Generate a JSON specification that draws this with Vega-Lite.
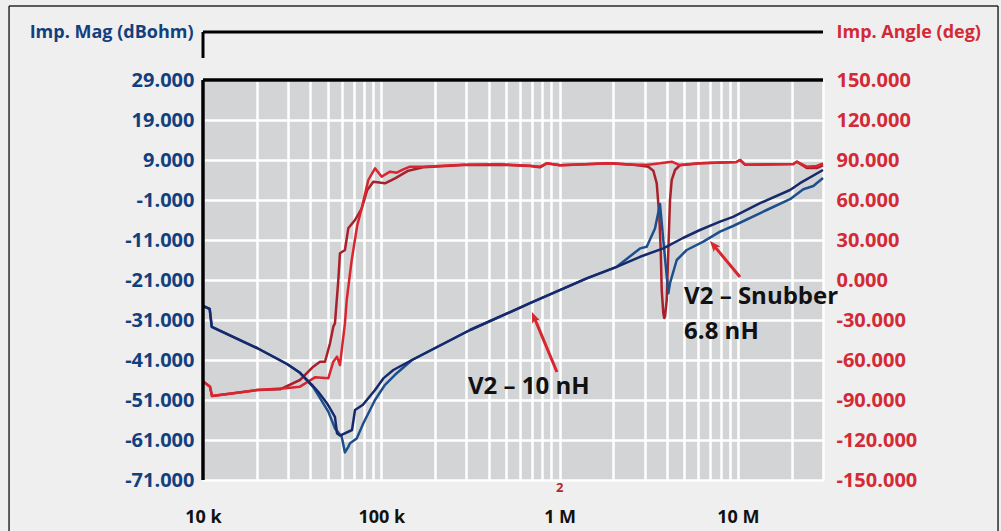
{
  "$schema": "https://vega.github.io/schema/vega-lite/v6.json",
  "width": 620,
  "height": 400,
  "autosize": {"type": "none"},
  "padding": {"left": 203, "top": 80, "right": 178, "bottom": 51},
  "background": "#efefef",
  "config": {"view": {"fill": "#d3d4d6", "stroke": null}, "font": "Open Sans"},
  "datasets": {
    "ang": [
      {"s":"D","f":10000,"v":-76},{"s":"D","f":10946,"v":-80},{"s":"D","f":11232,"v":-87},{"s":"D","f":14790,"v":-85},{"s":"D","f":20090,"v":-82.5},{"s":"D","f":27030,"v":-82},{"s":"D","f":34990,"v":-75},{"s":"D","f":41550,"v":-65},{"s":"D","f":45320,"v":-61.3},{"s":"D","f":48340,"v":-61.3},{"s":"D","f":51560,"v":-47.5},{"s":"D","f":53800,"v":-35},{"s":"D","f":54950,"v":-32.5},{"s":"D","f":57400,"v":0},{"s":"D","f":58630,"v":20},{"s":"D","f":62520,"v":22.5},{"s":"D","f":65290,"v":38.75},{"s":"D","f":71200,"v":45},{"s":"D","f":77630,"v":53.75},{"s":"D","f":83440,"v":67.5},{"s":"D","f":90200,"v":73.75},{"s":"D","f":104900,"v":72.5},{"s":"D","f":119400,"v":76.25},{"s":"D","f":141700,"v":82},{"s":"D","f":172000,"v":84.5},{"s":"D","f":288400,"v":86.25},{"s":"D","f":463000,"v":86.5},{"s":"D","f":682000,"v":85.5},{"s":"D","f":776000,"v":84.5},{"s":"D","f":846700,"v":87.5},{"s":"D","f":1005000,"v":86},{"s":"D","f":1917000,"v":87.5},{"s":"D","f":2590000,"v":86.5},{"s":"D","f":2947000,"v":85.5},{"s":"D","f":3144000,"v":85},{"s":"D","f":3354000,"v":82},{"s":"D","f":3505000,"v":72.5},{"s":"D","f":3624000,"v":47.5},{"s":"D","f":3690000,"v":22.5},{"s":"D","f":3738000,"v":-7.5},{"s":"D","f":3815000,"v":-25},{"s":"D","f":3860000,"v":-28.5},{"s":"D","f":3900000,"v":-27.5},{"s":"D","f":3987000,"v":-15},{"s":"D","f":4071000,"v":22.5},{"s":"D","f":4160000,"v":60},{"s":"D","f":4254000,"v":75},{"s":"D","f":4441000,"v":82.5},{"s":"D","f":4736000,"v":86.25},{"s":"D","f":6124000,"v":87.5},{"s":"D","f":9800000,"v":88.5},{"s":"D","f":10280000,"v":90},{"s":"D","f":10960000,"v":86.5},{"s":"D","f":20450000,"v":87},{"s":"D","f":21360000,"v":88.75},{"s":"D","f":24310000,"v":84},{"s":"D","f":27660000,"v":84},{"s":"D","f":30000000,"v":86},
      {"s":"R","f":10000,"v":-76},{"s":"R","f":10946,"v":-80},{"s":"R","f":11232,"v":-87},{"s":"R","f":14790,"v":-85},{"s":"R","f":20090,"v":-82.5},{"s":"R","f":28840,"v":-81.2},{"s":"R","f":34990,"v":-80},{"s":"R","f":42460,"v":-73},{"s":"R","f":50440,"v":-73.75},{"s":"R","f":53800,"v":-61.25},{"s":"R","f":56420,"v":-57.5},{"s":"R","f":58630,"v":-63.75},{"s":"R","f":62520,"v":-32.5},{"s":"R","f":63970,"v":-15},{"s":"R","f":68230,"v":15},{"s":"R","f":73350,"v":41.25},{"s":"R","f":77630,"v":53.75},{"s":"R","f":84530,"v":75},{"s":"R","f":92200,"v":83.75},{"s":"R","f":100500,"v":77.5},{"s":"R","f":111900,"v":81.25},{"s":"R","f":122000,"v":80.5},{"s":"R","f":132900,"v":83},{"s":"R","f":144900,"v":85},{"s":"R","f":172000,"v":85},{"s":"R","f":288400,"v":86.5},{"s":"R","f":463000,"v":86.75},{"s":"R","f":682000,"v":85.75},{"s":"R","f":776000,"v":85},{"s":"R","f":846700,"v":87.5},{"s":"R","f":1005000,"v":86},{"s":"R","f":1917000,"v":87.5},{"s":"R","f":2590000,"v":86.5},{"s":"R","f":3144000,"v":86.5},{"s":"R","f":3656000,"v":87.5},{"s":"R","f":4254000,"v":88.75},{"s":"R","f":4736000,"v":86},{"s":"R","f":6124000,"v":87.5},{"s":"R","f":9800000,"v":88.5},{"s":"R","f":10280000,"v":90},{"s":"R","f":10960000,"v":86.5},{"s":"R","f":20450000,"v":87},{"s":"R","f":21360000,"v":88.75},{"s":"R","f":24310000,"v":85},{"s":"R","f":27660000,"v":85.5},{"s":"R","f":30000000,"v":87.5}
    ],
    "mag": [
      {"s":"A","f":10000,"v":-27.5},{"s":"A","f":10900,"v":-28.2},{"s":"A","f":11200,"v":-32.7},{"s":"A","f":20090,"v":-38},{"s":"A","f":29590,"v":-42},{"s":"A","f":34990,"v":-44.2},{"s":"A","f":41400,"v":-47.7},{"s":"A","f":44160,"v":-49.7},{"s":"A","f":50440,"v":-53.9},{"s":"A","f":54950,"v":-58.1},{"s":"A","f":59970,"v":-60.2},{"s":"A","f":62520,"v":-64.1},{"s":"A","f":65290,"v":-62.7},{"s":"A","f":66740,"v":-61.8},{"s":"A","f":72780,"v":-60.6},{"s":"A","f":79300,"v":-56.8},{"s":"A","f":92200,"v":-51},{"s":"A","f":104900,"v":-47.2},{"s":"A","f":119400,"v":-44.7},{"s":"A","f":148600,"v":-41},{"s":"A","f":314500,"v":-33.5},{"s":"A","f":682000,"v":-26.8},{"s":"A","f":1419000,"v":-20.6},{"s":"A","f":2090000,"v":-17.7},{"s":"A","f":2826000,"v":-13.1},{"s":"A","f":3080000,"v":-12.7},{"s":"A","f":3427000,"v":-8.1},{"s":"A","f":3656000,"v":-2},{"s":"A","f":3815000,"v":-11},{"s":"A","f":4071000,"v":-24.3},{"s":"A","f":4160000,"v":-21.8},{"s":"A","f":4538000,"v":-16},{"s":"A","f":5162000,"v":-13.5},{"s":"A","f":6397000,"v":-11.4},{"s":"A","f":7937000,"v":-8.9},{"s":"A","f":9390000,"v":-7.5},{"s":"A","f":14500000,"v":-3.5},{"s":"A","f":19600000,"v":-0.8},{"s":"A","f":23260000,"v":1.7},{"s":"A","f":26480000,"v":2.5},{"s":"A","f":30000000,"v":4.5},
      {"s":"B","f":10000,"v":-27.5},{"s":"B","f":10900,"v":-28.2},{"s":"B","f":11200,"v":-32.7},{"s":"B","f":20090,"v":-38},{"s":"B","f":29590,"v":-42},{"s":"B","f":34990,"v":-44.2},{"s":"B","f":41400,"v":-47.5},{"s":"B","f":44160,"v":-48.9},{"s":"B","f":49550,"v":-51.8},{"s":"B","f":54950,"v":-55.2},{"s":"B","f":56420,"v":-59.3},{"s":"B","f":58630,"v":-59.9},{"s":"B","f":68500,"v":-58.5},{"s":"B","f":71200,"v":-53.5},{"s":"B","f":78900,"v":-52.2},{"s":"B","f":92200,"v":-48.5},{"s":"B","f":102600,"v":-45.6},{"s":"B","f":116800,"v":-43.5},{"s":"B","f":148600,"v":-41},{"s":"B","f":314500,"v":-33.5},{"s":"B","f":682000,"v":-26.8},{"s":"B","f":1419000,"v":-20.6},{"s":"B","f":2090000,"v":-17.7},{"s":"B","f":2826000,"v":-15.2},{"s":"B","f":3815000,"v":-13.1},{"s":"B","f":4920000,"v":-10.5},{"s":"B","f":6124000,"v":-8.5},{"s":"B","f":7937000,"v":-6.4},{"s":"B","f":9390000,"v":-5.2},{"s":"B","f":13310000,"v":-1.8},{"s":"B","f":19600000,"v":1.5},{"s":"B","f":22300000,"v":3.2},{"s":"B","f":30000000,"v":6.5}
    ],
    "notes": [
      {"label":"V2 – 10 nH","f":306000,"v":-47.75},
      {"label":"V2 – Snubber","f":4990000,"v":-25.25},
      {"label":"6.8 nH","f":4990000,"v":-34}
    ],
    "arrows": [
      {"f":966000,"v":-44,"f2":721000,"v2":-30.4},
      {"f":10270000,"v":-20.25,"f2":7330000,"v2":-12.4}
    ]
  },
  "resolve": {"scale": {"y": "independent"}},
  "layer": [
    {
      "data": {"name": "ang"},
      "mark": {"type": "line", "strokeWidth": 2.5, "strokeJoin": "round"},
      "encoding": {
        "x": {
          "field": "f", "type": "quantitative",
          "scale": {"type": "log", "domain": [10000, 30000000], "nice": false},
          "axis": {
            "values": [10000,20000,30000,40000,50000,60000,70000,80000,90000,100000,200000,300000,400000,500000,600000,700000,800000,900000,1000000,2000000,3000000,4000000,5000000,6000000,7000000,8000000,9000000,10000000,20000000,30000000],
            "tickCount": 60,
            "labelExpr": "datum.value == 10000 ? '10 k' : datum.value == 100000 ? '100 k' : datum.value == 1000000 ? '1 M' : datum.value == 10000000 ? '10 M' : ''",
            "labelOverlap": false,
            "labelFlush": false,
            "grid": true, "gridColor": "#ffffff", "gridWidth": 2.5, "gridOpacity": 1,
            "domain": false, "ticks": false, "tickSize": 0,
            "labelPadding": 28, "labelFontSize": 18, "labelFontWeight": "bold", "labelColor": "#111111",
            "labelFont": "Open Sans", "title": null
          }
        },
        "y": {
          "field": "v", "type": "quantitative",
          "scale": {"domain": [-150, 150], "nice": false, "zero": false},
          "axis": {
            "orient": "right",
            "values": [-150,-120,-90,-60,-30,0,30,60,90,120,150],
            "tickCount": 30,
            "labelExpr": "(datum.value < 0 ? '-' : '') + format(abs(datum.value), '.3f')",
            "labelOverlap": false,
            "grid": false, "domain": false, "ticks": false, "tickSize": 0,
            "labelPadding": 13, "labelFontSize": 20, "labelFontWeight": "bold", "labelColor": "#d32a36",
            "labelFont": "Open Sans",
            "title": "Imp. Angle (deg)", "titleAngle": 0, "titleAlign": "left", "titleBaseline": "middle",
            "titleX": 13, "titleY": -48, "titleFontSize": 18, "titleFontWeight": "bold", "titleColor": "#d32a36",
            "titleFont": "Open Sans"
          }
        },
        "color": {
          "field": "s", "type": "nominal",
          "scale": {"domain": ["A","B","D","R"], "range": ["#1c4f8c","#16296b","#a8212a","#da2531"]},
          "legend": null
        }
      }
    },
    {
      "layer": [
        {
          "data": {"name": "mag"},
          "mark": {"type": "line", "strokeWidth": 2.5, "strokeJoin": "round"},
          "encoding": {
            "x": {"field": "f", "type": "quantitative"},
            "y": {
              "field": "v", "type": "quantitative",
              "scale": {"domain": [-71, 29], "nice": false, "zero": false},
              "axis": {
                "orient": "left",
                "values": [-71,-61,-51,-41,-31,-21,-11,-1,9,19,29],
                "tickCount": 30,
                "labelExpr": "(datum.value < 0 ? '-' : '') + format(abs(datum.value), '.3f')",
                "labelOverlap": false,
                "grid": true, "gridColor": "#ffffff", "gridWidth": 2.5, "gridOpacity": 1,
                "domain": false, "ticks": false, "tickSize": 0,
                "labelPadding": 9, "labelFontSize": 20, "labelFontWeight": "bold", "labelColor": "#123f7d",
                "labelFont": "Open Sans",
                "title": "Imp. Mag (dBohm)", "titleAngle": 0, "titleAlign": "right", "titleBaseline": "middle",
                "titleX": -10, "titleY": -48, "titleFontSize": 18, "titleFontWeight": "bold", "titleColor": "#123f7d",
                "titleFont": "Open Sans"
              }
            },
            "color": {
              "field": "s", "type": "nominal",
              "scale": {"domain": ["A","B","D","R"], "range": ["#1c4f8c","#16296b","#a8212a","#da2531"]},
              "legend": null
            }
          }
        },
        {
          "data": {"values": [{}]},
          "mark": {"type": "rule", "color": "#000000", "strokeWidth": 3.5},
          "encoding": {
            "x": {"datum": 10000, "type": "quantitative"},
            "y": {"datum": -71, "type": "quantitative"},
            "y2": {"datum": 29}
          }
        },
        {
          "data": {"values": [{}]},
          "mark": {"type": "rule", "color": "#000000", "strokeWidth": 3.5},
          "encoding": {
            "x": {"datum": 10000, "type": "quantitative"},
            "x2": {"datum": 30000000},
            "y": {"datum": 29, "type": "quantitative"}
          }
        },
        {
          "data": {"values": [{}]},
          "mark": {"type": "rule", "color": "#000000", "strokeWidth": 3},
          "encoding": {
            "x": {"datum": 10000, "type": "quantitative"},
            "x2": {"datum": 30000000},
            "y": {"datum": 41, "type": "quantitative"}
          }
        },
        {
          "data": {"values": [{}]},
          "mark": {"type": "rule", "color": "#000000", "strokeWidth": 3},
          "encoding": {
            "x": {"datum": 10000, "type": "quantitative"},
            "y": {"datum": 41, "type": "quantitative"},
            "y2": {"datum": 34.5}
          }
        },
        {
          "data": {"values": [{}]},
          "mark": {"type": "rule", "color": "#2a2a2a", "strokeWidth": 1.5},
          "encoding": {
            "x": {"datum": 817, "type": "quantitative"},
            "x2": {"datum": 287600000},
            "y": {"datum": 47.5, "type": "quantitative"}
          }
        },
        {
          "data": {"values": [{}]},
          "mark": {"type": "rule", "color": "#2a2a2a", "strokeWidth": 1.5},
          "encoding": {
            "x": {"datum": 817, "type": "quantitative"},
            "y": {"datum": 47.5, "type": "quantitative"},
            "y2": {"datum": -84}
          }
        },
        {
          "data": {"values": [{}]},
          "mark": {"type": "rule", "color": "#2a2a2a", "strokeWidth": 1.5},
          "encoding": {
            "x": {"datum": 287600000, "type": "quantitative"},
            "y": {"datum": 47.5, "type": "quantitative"},
            "y2": {"datum": -84}
          }
        },
        {
          "data": {"values": [{}]},
          "mark": {"type": "text", "color": "#b32630", "fontSize": 13, "fontWeight": "bold", "font": "Open Sans", "align": "center", "baseline": "middle"},
          "encoding": {
            "x": {"datum": 1000000, "type": "quantitative"},
            "y": {"datum": -73, "type": "quantitative"},
            "text": {"value": "2"}
          }
        },
        {
          "data": {"name": "arrows"},
          "mark": {"type": "rule", "color": "#d9262e", "strokeWidth": 3},
          "encoding": {
            "x": {"field": "f", "type": "quantitative"},
            "y": {"field": "v", "type": "quantitative"},
            "x2": {"field": "f2"},
            "y2": {"field": "v2"}
          }
        },
        {
          "data": {"values": [{"f": 721000, "v": -30.4}]},
          "mark": {"type": "point", "filled": true, "opacity": 1, "color": "#d9262e", "size": 150, "shape": "M0,-1L0.7,0.8L0,0.4L-0.7,0.8Z", "angle": -22.6},
          "encoding": {
            "x": {"field": "f", "type": "quantitative"},
            "y": {"field": "v", "type": "quantitative"}
          }
        },
        {
          "data": {"values": [{"f": 7330000, "v": -12.4}]},
          "mark": {"type": "point", "filled": true, "opacity": 1, "color": "#d9262e", "size": 150, "shape": "M0,-1L0.7,0.8L0,0.4L-0.7,0.8Z", "angle": -39.8},
          "encoding": {
            "x": {"field": "f", "type": "quantitative"},
            "y": {"field": "v", "type": "quantitative"}
          }
        },
        {
          "data": {"name": "notes"},
          "mark": {"type": "text", "align": "left", "baseline": "middle", "fontSize": 24, "fontWeight": "bold", "font": "Open Sans", "color": "#111111"},
          "encoding": {
            "x": {"field": "f", "type": "quantitative"},
            "y": {"field": "v", "type": "quantitative"},
            "text": {"field": "label"}
          }
        }
      ]
    }
  ]
}
